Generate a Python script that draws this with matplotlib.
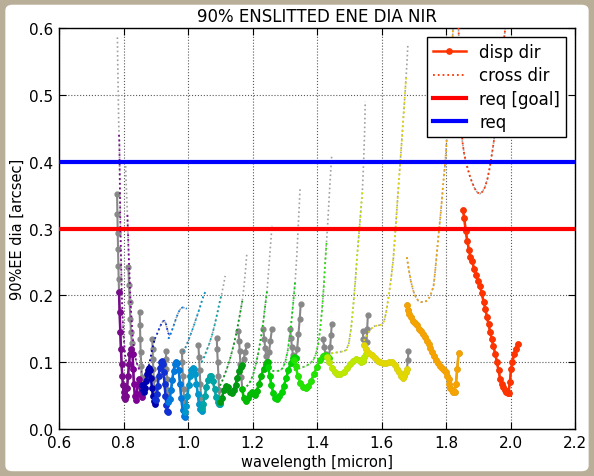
import matplotlib
matplotlib.use("Agg")
import matplotlib.pyplot as plt
import numpy as np
from matplotlib.patches import FancyBboxPatch

# ---------------- data ----------------
title = "90% ENSLITTED ENE DIA NIR"
xlabel = "wavelength [micron]"
ylabel = "90%EE dia [arcsec]"
x_ticks = [0.6, 0.8, 1.0, 1.2, 1.4, 1.6, 1.8, 2.0, 2.2]
y_ticks = [0.0, 0.1, 0.2, 0.3, 0.4, 0.5, 0.6]
req_goal = 0.3
req = 0.4

order_colors = ["#7a0a8c", "#7e0096", "#0000b0", "#1030d4", "#0078dc", "#0098cc",
                "#00a6a6", "#009a10", "#00bb00", "#00d400", "#22e400", "#bde800",
                "#e2d800", "#f5a300", "#ff3300"]

disp_lo = [0.786, 0.828, 0.858, 0.897, 0.939, 0.989, 1.042, 1.099, 1.168, 1.247, 1.328, 1.430, 1.545, 1.677, 1.84]
disp_hi = [0.823, 0.858, 0.897, 0.939, 0.989, 1.042, 1.099, 1.167, 1.247, 1.333, 1.436, 1.550, 1.678, 1.840, 2.03]

disp_w = [
    [0.780, 0.781, 0.782, 0.783, 0.784, 0.785, 0.786, 0.788, 0.790, 0.792, 0.794, 0.796, 0.798, 0.800, 0.802, 0.805, 0.808, 0.811, 0.814, 0.817, 0.820, 0.823],
    [0.815, 0.817, 0.819, 0.821, 0.823, 0.826, 0.828, 0.830, 0.832, 0.835, 0.838, 0.841, 0.844, 0.847, 0.850, 0.853, 0.856, 0.858],
    [0.850, 0.851, 0.852, 0.853, 0.855, 0.857, 0.858, 0.861, 0.864, 0.867, 0.870, 0.873, 0.876, 0.879, 0.882, 0.885, 0.888, 0.891, 0.894, 0.897],
    [0.889, 0.890, 0.891, 0.892, 0.894, 0.896, 0.897, 0.900, 0.903, 0.906, 0.909, 0.912, 0.915, 0.918, 0.921, 0.924, 0.927, 0.930, 0.933, 0.936, 0.939],
    [0.931, 0.932, 0.933, 0.935, 0.937, 0.939, 0.943, 0.947, 0.951, 0.955, 0.959, 0.963, 0.967, 0.971, 0.975, 0.979, 0.983, 0.986, 0.989],
    [0.981, 0.982, 0.984, 0.986, 0.988, 0.990, 0.994, 0.998, 1.002, 1.006, 1.010, 1.014, 1.018, 1.022, 1.026, 1.030, 1.034, 1.038, 1.042],
    [1.032, 1.034, 1.036, 1.038, 1.040, 1.042, 1.047, 1.052, 1.057, 1.062, 1.067, 1.072, 1.077, 1.082, 1.087, 1.092, 1.096, 1.099],
    [1.089, 1.090, 1.092, 1.094, 1.096, 1.099, 1.105, 1.111, 1.117, 1.123, 1.129, 1.135, 1.141, 1.147, 1.153, 1.158, 1.163, 1.167, 1.172, 1.177, 1.182],
    [1.156, 1.158, 1.160, 1.162, 1.165, 1.168, 1.172, 1.178, 1.185, 1.192, 1.199, 1.206, 1.213, 1.220, 1.227, 1.234, 1.240, 1.244, 1.247, 1.251, 1.255, 1.260],
    [1.233, 1.236, 1.239, 1.242, 1.245, 1.248, 1.253, 1.258, 1.264, 1.270, 1.276, 1.283, 1.290, 1.297, 1.304, 1.311, 1.318, 1.324, 1.329, 1.333, 1.338, 1.342, 1.346, 1.349],
    [1.316, 1.319, 1.322, 1.325, 1.328, 1.333, 1.340, 1.348, 1.356, 1.364, 1.372, 1.381, 1.390, 1.399, 1.408, 1.417, 1.425, 1.431, 1.436, 1.440, 1.443, 1.445],
    [1.418, 1.422, 1.426, 1.430, 1.437, 1.445, 1.454, 1.463, 1.472, 1.482, 1.492, 1.502, 1.512, 1.521, 1.529, 1.536, 1.541, 1.546, 1.550, 1.553, 1.555, 1.557],
    [1.541, 1.543, 1.545, 1.552, 1.560, 1.569, 1.578, 1.587, 1.596, 1.605, 1.614, 1.623, 1.632, 1.640, 1.648, 1.655, 1.661, 1.666, 1.670, 1.674, 1.678, 1.681, 1.683],
    [1.678, 1.682, 1.686, 1.691, 1.697, 1.703, 1.709, 1.715, 1.721, 1.727, 1.733, 1.739, 1.745, 1.751, 1.757, 1.763, 1.769, 1.775, 1.781, 1.787, 1.793, 1.798, 1.803, 1.807, 1.810, 1.813, 1.817, 1.821, 1.826, 1.830, 1.834, 1.838],
    [1.852, 1.856, 1.860, 1.865, 1.870, 1.875, 1.880, 1.886, 1.892, 1.898, 1.905, 1.910, 1.916, 1.921, 1.926, 1.931, 1.936, 1.941, 1.946, 1.952, 1.957, 1.962, 1.967, 1.972, 1.977, 1.982, 1.986, 1.990, 1.993, 1.997, 2.001, 2.005, 2.010, 2.015, 2.021],
]
disp_v = [
    [0.351, 0.321, 0.294, 0.269, 0.244, 0.224, 0.205, 0.175, 0.145, 0.120, 0.098, 0.080, 0.066, 0.055, 0.048, 0.045, 0.050, 0.062, 0.080, 0.098, 0.112, 0.120],
    [0.242, 0.215, 0.190, 0.165, 0.145, 0.128, 0.112, 0.090, 0.068, 0.050, 0.044, 0.052, 0.068, 0.075, 0.066, 0.052, 0.048, 0.058],
    [0.175, 0.155, 0.135, 0.115, 0.095, 0.078, 0.066, 0.058, 0.055, 0.062, 0.072, 0.082, 0.089, 0.092, 0.088, 0.076, 0.062, 0.050, 0.042, 0.038],
    [0.135, 0.120, 0.105, 0.090, 0.075, 0.060, 0.045, 0.044, 0.052, 0.065, 0.080, 0.092, 0.100, 0.102, 0.098, 0.086, 0.068, 0.050, 0.036, 0.027, 0.025],
    [0.117, 0.105, 0.090, 0.075, 0.058, 0.040, 0.045, 0.058, 0.073, 0.087, 0.097, 0.101, 0.099, 0.088, 0.068, 0.046, 0.028, 0.020, 0.018],
    [0.117, 0.100, 0.080, 0.060, 0.040, 0.025, 0.035, 0.050, 0.066, 0.080, 0.088, 0.092, 0.090, 0.082, 0.068, 0.052, 0.038, 0.030, 0.027],
    [0.125, 0.108, 0.088, 0.068, 0.048, 0.032, 0.038, 0.050, 0.063, 0.074, 0.080, 0.079, 0.072, 0.060, 0.048, 0.040, 0.037, 0.037],
    [0.136, 0.120, 0.100, 0.080, 0.058, 0.040, 0.047, 0.058, 0.065, 0.063, 0.056, 0.054, 0.058, 0.066, 0.077, 0.087, 0.093, 0.096, 0.105, 0.115, 0.125],
    [0.147, 0.132, 0.116, 0.098, 0.078, 0.060, 0.047, 0.042, 0.046, 0.053, 0.055, 0.051, 0.057, 0.068, 0.080, 0.090, 0.097, 0.100, 0.100, 0.115, 0.132, 0.150],
    [0.150, 0.135, 0.121, 0.109, 0.100, 0.093, 0.080, 0.066, 0.054, 0.047, 0.045, 0.049, 0.056, 0.065, 0.076, 0.088, 0.099, 0.106, 0.108, 0.106, 0.120, 0.142, 0.165, 0.187],
    [0.150, 0.136, 0.122, 0.111, 0.104, 0.095, 0.080, 0.069, 0.063, 0.062, 0.065, 0.072, 0.082, 0.093, 0.103, 0.109, 0.111, 0.109, 0.106, 0.122, 0.140, 0.157],
    [0.135, 0.122, 0.112, 0.108, 0.101, 0.092, 0.085, 0.082, 0.082, 0.086, 0.092, 0.097, 0.102, 0.105, 0.104, 0.100, 0.102, 0.108, 0.112, 0.130, 0.150, 0.170],
    [0.147, 0.135, 0.125, 0.119, 0.114, 0.110, 0.106, 0.102, 0.100, 0.099, 0.099, 0.100, 0.100, 0.096, 0.090, 0.085, 0.080, 0.077, 0.079, 0.085, 0.090, 0.103, 0.117],
    [0.185, 0.178, 0.172, 0.167, 0.162, 0.158, 0.155, 0.150, 0.146, 0.142, 0.138, 0.132, 0.127, 0.121, 0.115, 0.109, 0.103, 0.099, 0.095, 0.092, 0.089, 0.086, 0.080, 0.075, 0.068, 0.062, 0.058, 0.056, 0.056, 0.068, 0.090, 0.113],
    [0.327, 0.315, 0.297, 0.282, 0.268, 0.258, 0.252, 0.240, 0.230, 0.222, 0.214, 0.203, 0.190, 0.180, 0.168, 0.157, 0.145, 0.135, 0.124, 0.112, 0.100, 0.088, 0.075, 0.068, 0.063, 0.058, 0.056, 0.054, 0.054, 0.070, 0.090, 0.100, 0.112, 0.120, 0.127],
]

cross_lo = [0.786, 0.812, 0.858, 0.897, 0.939, 0.985, 1.042, 1.099, 1.168, 1.247, 1.328, 1.430, 1.545, 1.677, 1.83]
cross_hi = [0.823, 0.858, 0.897, 0.944, 0.996, 1.053, 1.104, 1.168, 1.245, 1.332, 1.432, 1.540, 1.676, 1.84, 2.03]

cross_w = [
    [0.781, 0.782, 0.783, 0.784, 0.785, 0.786, 0.787, 0.788, 0.789, 0.790, 0.792, 0.794, 0.797, 0.800, 0.805, 0.810, 0.816, 0.822],
    [0.806, 0.808, 0.810, 0.812, 0.814, 0.816, 0.818, 0.821, 0.824, 0.828, 0.833, 0.840, 0.848, 0.856],
    [0.850, 0.853, 0.856, 0.858, 0.863, 0.868, 0.873, 0.878, 0.883, 0.888, 0.893, 0.897],
    [0.897, 0.902, 0.907, 0.912, 0.917, 0.922, 0.927, 0.931, 0.935, 0.939, 0.944],
    [0.939, 0.944, 0.949, 0.954, 0.959, 0.964, 0.969, 0.974, 0.979, 0.984, 0.990, 0.996],
    [0.985, 0.992, 0.999, 1.006, 1.013, 1.020, 1.027, 1.034, 1.041, 1.047, 1.053],
    [1.042, 1.050, 1.058, 1.066, 1.074, 1.082, 1.090, 1.097, 1.104, 1.110, 1.115],
    [1.099, 1.106, 1.113, 1.120, 1.127, 1.134, 1.141, 1.148, 1.155, 1.162, 1.168, 1.173, 1.178, 1.182],
    [1.170, 1.178, 1.186, 1.194, 1.202, 1.210, 1.218, 1.226, 1.233, 1.239, 1.245, 1.250, 1.255, 1.260],
    [1.247, 1.255, 1.263, 1.271, 1.279, 1.287, 1.294, 1.301, 1.308, 1.314, 1.320, 1.326, 1.332, 1.337, 1.342, 1.347],
    [1.328, 1.338, 1.348, 1.358, 1.368, 1.378, 1.388, 1.396, 1.403, 1.409, 1.415, 1.420, 1.425, 1.429, 1.433, 1.437, 1.441, 1.445],
    [1.430, 1.442, 1.454, 1.466, 1.478, 1.490, 1.498, 1.505, 1.512, 1.518, 1.524, 1.530, 1.535, 1.540, 1.544, 1.547, 1.549],
    [1.545, 1.556, 1.567, 1.578, 1.589, 1.600, 1.608, 1.615, 1.622, 1.629, 1.636, 1.643, 1.650, 1.656, 1.662, 1.667, 1.672, 1.676, 1.679, 1.681],
    [1.678, 1.684, 1.690, 1.697, 1.705, 1.713, 1.722, 1.731, 1.740, 1.748, 1.755, 1.761, 1.766, 1.771, 1.776, 1.781, 1.786, 1.790, 1.794, 1.797, 1.801, 1.805, 1.809, 1.813, 1.817, 1.821, 1.825],
    [1.835, 1.838, 1.841, 1.844, 1.847, 1.850, 1.856, 1.864, 1.872, 1.880, 1.888, 1.896, 1.904, 1.912, 1.920, 1.928, 1.935, 1.941, 1.947, 1.953, 1.959, 1.965, 1.971, 1.977, 1.983, 1.988],
]
cross_v = [
    [0.586, 0.550, 0.520, 0.490, 0.460, 0.440, 0.430, 0.390, 0.350, 0.310, 0.260, 0.210, 0.170, 0.140, 0.110, 0.095, 0.090, 0.095],
    [0.400, 0.370, 0.345, 0.320, 0.290, 0.260, 0.235, 0.200, 0.170, 0.140, 0.115, 0.100, 0.090, 0.085],
    [0.110, 0.090, 0.075, 0.068, 0.070, 0.075, 0.083, 0.093, 0.105, 0.117, 0.128, 0.135],
    [0.135, 0.140, 0.146, 0.152, 0.157, 0.161, 0.162, 0.158, 0.150, 0.143, 0.140],
    [0.135, 0.140, 0.146, 0.153, 0.160, 0.167, 0.173, 0.178, 0.181, 0.182, 0.181, 0.180],
    [0.115, 0.122, 0.130, 0.139, 0.148, 0.158, 0.168, 0.178, 0.189, 0.198, 0.205],
    [0.100, 0.108, 0.118, 0.128, 0.140, 0.155, 0.172, 0.188, 0.202, 0.216, 0.229],
    [0.065, 0.072, 0.081, 0.090, 0.100, 0.112, 0.125, 0.140, 0.157, 0.175, 0.192, 0.212, 0.238, 0.262],
    [0.060, 0.062, 0.066, 0.072, 0.082, 0.097, 0.115, 0.137, 0.160, 0.185, 0.208, 0.240, 0.272, 0.304],
    [0.087, 0.087, 0.087, 0.087, 0.087, 0.088, 0.092, 0.100, 0.115, 0.135, 0.160, 0.190, 0.222, 0.260, 0.310, 0.360],
    [0.088, 0.090, 0.091, 0.093, 0.095, 0.098, 0.103, 0.112, 0.127, 0.148, 0.178, 0.210, 0.250, 0.280, 0.310, 0.345, 0.378, 0.409],
    [0.112, 0.113, 0.114, 0.115, 0.116, 0.118, 0.128, 0.150, 0.185, 0.220, 0.260, 0.295, 0.325, 0.355, 0.400, 0.445, 0.490],
    [0.132, 0.142, 0.150, 0.154, 0.155, 0.156, 0.162, 0.178, 0.200, 0.225, 0.255, 0.300, 0.350, 0.390, 0.430, 0.465, 0.500, 0.530, 0.555, 0.575],
    [0.257, 0.238, 0.222, 0.208, 0.198, 0.192, 0.190, 0.190, 0.192, 0.197, 0.205, 0.215, 0.238, 0.264, 0.290, 0.314, 0.340, 0.364, 0.385, 0.400, 0.430, 0.455, 0.485, 0.520, 0.560, 0.600, 0.640],
    [0.660, 0.600, 0.550, 0.500, 0.460, 0.430, 0.410, 0.394, 0.380, 0.369, 0.360, 0.354, 0.352, 0.355, 0.362, 0.375, 0.392, 0.410, 0.429, 0.455, 0.485, 0.515, 0.545, 0.575, 0.600, 0.630],
]

# ---------------- figure ----------------
plt.rcParams['font.family'] = ['DejaVu Sans']
fig = plt.figure(figsize=(5.94, 4.77), dpi=100)
fig.patch.set_facecolor("#b9ae98")
bg = FancyBboxPatch((0.009, 0.01), 0.982, 0.978,
                    boxstyle="round,pad=0,rounding_size=0.012",
                    transform=fig.transFigure, facecolor="white",
                    edgecolor="none", zorder=-10)
fig.patches.append(bg)
ax = fig.add_axes([0.0993, 0.0985, 0.8693, 0.8407])
ax.set_zorder(1)

GRAY_D = "#888888"
GRAY_C = "#a0a0a0"
MS = 3.5

for i in range(len(disp_w)):
    w = np.array(disp_w[i]); v = np.array(disp_v[i])
    ax.plot(w, v, '-', color=GRAY_D, lw=1.5, marker='o', ms=MS, mec=GRAY_D, mfc=GRAY_D, zorder=2)
for i in range(len(cross_w)):
    w = np.array(cross_w[i]); v = np.array(cross_v[i])
    ax.plot(w, v, ':', color=GRAY_C, lw=1.2, zorder=2)

for i in range(len(cross_w)):
    w = np.array(cross_w[i]); v = np.array(cross_v[i])
    m = (w >= cross_lo[i] - 1e-9) & (w <= cross_hi[i] + 1e-9)
    kw = dict(label="cross dir") if i == len(cross_w) - 1 else {}
    ax.plot(w[m], v[m], ':', color=order_colors[i], lw=1.3, zorder=3, **kw)

for i in range(len(disp_w)):
    w = np.array(disp_w[i]); v = np.array(disp_v[i])
    m = (w >= disp_lo[i] - 1e-9) & (w <= disp_hi[i] + 1e-9)
    kw = dict(label="disp dir") if i == len(disp_w) - 1 else {}
    ax.plot(w[m], v[m], '-', color=order_colors[i], lw=1.8, marker='o', ms=MS + 0.3,
            mec=order_colors[i], mfc=order_colors[i], zorder=4, **kw)

ax.axhline(req_goal, color="#ff0000", lw=3, zorder=5, label="req [goal]")
ax.axhline(req, color="#0000ff", lw=3, zorder=5, label="req")

ax.set_xlim(0.6, 2.2)
ax.set_ylim(0.0, 0.6)
ax.set_xticks(x_ticks)
ax.set_yticks(y_ticks)
ax.set_xticklabels([f"{t:.1f}" for t in x_ticks])
ax.set_yticklabels([f"{t:.1f}" for t in y_ticks])
ax.tick_params(direction='in', top=True, right=True, labelsize=11, length=5, width=0.8, pad=4)
ax.grid(True, color="0.35", linestyle=":", lw=0.8)
ax.set_axisbelow(True)
for s in ax.spines.values():
    s.set_linewidth(1.0)

ax.set_title(title, fontsize=12, pad=5)
ax.set_xlabel(xlabel, fontsize=10.5, labelpad=3)
ax.set_ylabel(ylabel, fontsize=10.5, labelpad=3)

h, l = ax.get_legend_handles_labels()
order = [l.index("disp dir"), l.index("cross dir"), l.index("req [goal]"), l.index("req")]
leg = ax.legend([h[k] for k in order], [l[k] for k in order], loc="upper right",
                fontsize=12, fancybox=False, framealpha=1, edgecolor="black",
                borderaxespad=0.55, handlelength=2.0, labelspacing=0.32, borderpad=0.35)
leg.get_frame().set_linewidth(1.0)
leg.set_zorder(10)

fig.savefig("out.png", dpi=100, facecolor=fig.get_facecolor())
